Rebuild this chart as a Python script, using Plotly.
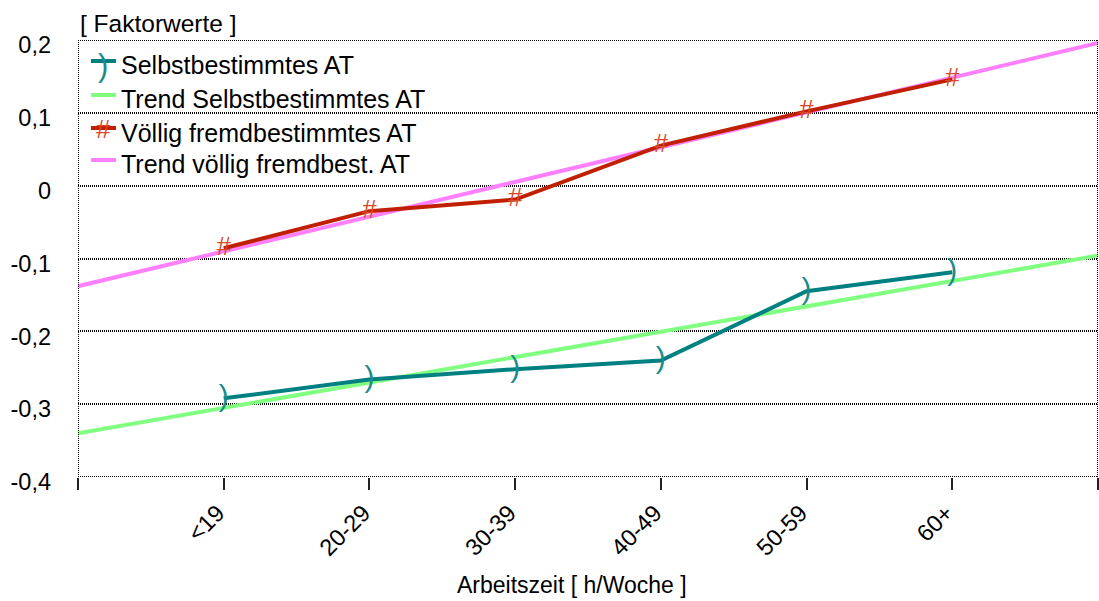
import plotly.graph_objects as go

# ---- data ----
categories = ["<19", "20-29", "30-39", "40-49", "50-59", "60+"]
cat_pos = [1, 2, 3, 4, 5, 6]
selbst = [-0.292, -0.266, -0.252, -0.240, -0.145, -0.119]
fremd = [-0.086, -0.035, -0.019, 0.055, 0.102, 0.146]
trend_x = [0, 7]
trend_selbst = [-0.340, -0.096]
trend_fremd = [-0.138, 0.196]
y_ticks = [-0.4, -0.3, -0.2, -0.1, 0.0, 0.1, 0.2]
y_ticktext = ["-0,4", "-0,3", "-0,2", "-0,1", "0", "0,1", "0,2"]
legend_names = ["Selbstbestimmtes AT", "Trend Selbstbestimmtes AT",
                "Völlig fremdbestimmtes AT", "Trend völlig fremdbest. AT"]

TEAL = "#008080"
TEAL_M = "#1a8c8c"
GREEN = "#80ff80"
RED = "#c02000"
RED_M = "#d84a2a"
PINK = "#ff80ff"
FONT = "Liberation Sans, Arial, sans-serif"
FS = 23.5
FS_LEG = 25
DOT = "1px,1px"

fig = go.Figure()
fig.add_trace(go.Scatter(x=trend_x, y=trend_selbst, mode="lines",
                         line=dict(color=GREEN, width=4), showlegend=False, name=legend_names[1]))
fig.add_trace(go.Scatter(x=trend_x, y=trend_fremd, mode="lines",
                         line=dict(color=PINK, width=4), showlegend=False, name=legend_names[3]))
fig.add_trace(go.Scatter(x=cat_pos, y=selbst, mode="lines",
                         line=dict(color=TEAL, width=4), showlegend=False, name=legend_names[0]))
fig.add_trace(go.Scatter(x=cat_pos, y=fremd, mode="lines",
                         line=dict(color=RED, width=4), showlegend=False, name=legend_names[2]))
fig.add_trace(go.Scatter(x=cat_pos, y=selbst, mode="text", text=[")"] * len(cat_pos),
                         textposition="middle center",
                         textfont=dict(family=FONT, size=30, color=TEAL_M), showlegend=False,
                         hoverinfo="skip"))
fig.add_trace(go.Scatter(x=cat_pos, y=fremd, mode="text", text=["#"] * len(cat_pos),
                         textposition="middle center",
                         textfont=dict(family=FONT, size=26, color=RED_M), showlegend=False,
                         hoverinfo="skip"))

shapes = []
# frame (dotted)
for xv in [0, 7]:
    shapes.append(dict(type="line", xref="x", yref="y", x0=xv, x1=xv, y0=-0.4, y1=0.2,
                       line=dict(color="black", width=2, dash=DOT)))
for yv in [-0.4, 0.2]:
    shapes.append(dict(type="line", xref="x", yref="y", x0=0, x1=7, y0=yv, y1=yv,
                       line=dict(color="black", width=2, dash=DOT)))

# manual legend
W = 1019.0
H = 437.0
def px(xp):
    return (xp - 78) / W
def py(yp):
    return 1 - (yp - 40) / H

leg_line_y = [61, 95, 128, 160]
leg_text_y = [65, 98.5, 133, 164]
leg_colors = [TEAL, GREEN, RED, PINK]
annotations = []
for i in range(4):
    shapes.append(dict(type="line", xref="paper", yref="paper", x0=px(91), x1=px(116),
                       y0=py(leg_line_y[i]), y1=py(leg_line_y[i]),
                       line=dict(color=leg_colors[i], width=4)))
    annotations.append(dict(xref="paper", yref="paper", x=px(119), y=py(leg_text_y[i]),
                            xanchor="left", yanchor="middle", showarrow=False,
                            text=legend_names[i], font=dict(family=FONT, size=FS_LEG, color="black")))
annotations.append(dict(xref="paper", yref="paper", x=px(103), y=py(leg_line_y[0] + 4),
                        xanchor="center", yanchor="middle", showarrow=False, text=")",
                        font=dict(family=FONT, size=31, color=TEAL_M)))
annotations.append(dict(xref="paper", yref="paper", x=px(103), y=py(leg_line_y[2] + 1),
                        xanchor="center", yanchor="middle", showarrow=False, text="#",
                        font=dict(family=FONT, size=26, color=RED_M)))
# y-axis unit label
annotations.append(dict(xref="paper", yref="paper", x=0, y=py(23), xanchor="left",
                        yanchor="middle", showarrow=False, text="[ Faktorwerte ]",
                        font=dict(family=FONT, size=24.5, color="black")))
# x-axis title
annotations.append(dict(xref="paper", yref="paper", x=px(572), y=py(585), xanchor="center",
                        yanchor="middle", showarrow=False, text="Arbeitszeit [ h/Woche ]",
                        font=dict(family=FONT, size=23, color="black")))

fig.update_layout(
    width=1099, height=601,
    margin=dict(l=78, r=1, t=40, b=124),
    paper_bgcolor="white", plot_bgcolor="white",
    font=dict(family=FONT, size=FS, color="black"),
    shapes=shapes, annotations=annotations,
    xaxis=dict(range=[0, 7], tickmode="array", tickvals=[0, 1, 2, 3, 4, 5, 6, 7],
               ticktext=[""] + categories + [""], tickangle=-45,
               ticks="outside", ticklen=12, tickwidth=1.5, tickcolor="#222",
               ticklabelshift=-6,
               showgrid=False, zeroline=False, showline=False,
               tickfont=dict(family=FONT, size=FS)),
    yaxis=dict(range=[-0.4, 0.2], tickmode="array", tickvals=y_ticks, ticktext=y_ticktext,
               showgrid=True, gridcolor="black", gridwidth=2, griddash=DOT,
               zeroline=False, showline=False, ticks="", ticklabelstandoff=26,
               ticklabelshift=5, tickfont=dict(family=FONT, size=FS)),
)

fig.write_html("out.html")
